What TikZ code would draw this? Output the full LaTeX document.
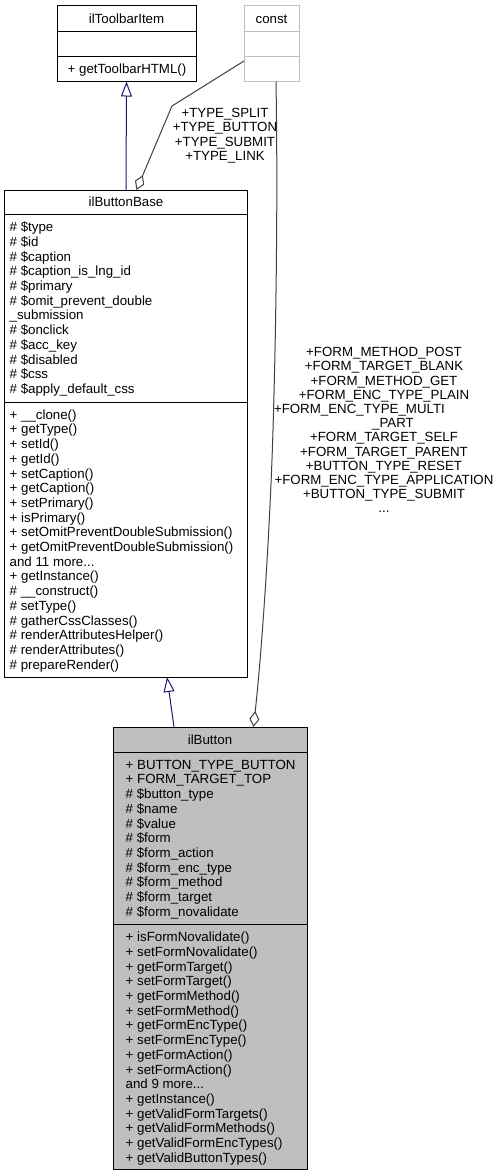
\documentclass[tikz,border=0pt]{standalone}
\usepackage{fontspec}
\setmainfont{Liberation Sans}
\usetikzlibrary{arrows.meta,calc}
\definecolor{navyline}{HTML}{191970}
\definecolor{edgegray}{HTML}{404040}
\definecolor{constgray}{HTML}{BFBFBF}
\definecolor{fillgray}{HTML}{BFBFBF}
\newcommand{\mystrut}{\rule{0pt}{11pt}}
\begin{document}
\begin{tikzpicture}[x=1pt,y=-1pt,
  every node/.style={font=\fontsize{13.3}{14.7}\selectfont},
  classbox/.style={draw=black, line width=1pt, inner sep=0pt, outer sep=0pt},
  constbox/.style={draw=constgray, line width=1pt, inner sep=0pt, outer sep=0pt},
  sepline/.style={draw=black, line width=1pt},
  constsep/.style={draw=constgray, line width=1pt},
  member/.style={anchor=north west, align=left, inner sep=0pt},
  titletext/.style={anchor=base, inner sep=0pt},
  edgelabel/.style={anchor=north, align=center, inner sep=0pt},
  inherit/.style={draw=navyline, line width=1pt, -{Triangle[open, length=15pt, width=11pt]}},
  aggr/.style={draw=edgegray, line width=1pt, -{Diamond[open, length=16pt, width=10pt]}}
]
\fill[white] (0,0) rectangle (503,1176);
\useasboundingbox (0,0) rectangle (503,1176);

% ilToolbarItem
\node[classbox, minimum width=139pt, minimum height=76pt] (toolbar) at (126.5,43.5) {};
\draw[sepline] ($(toolbar.north west)+(0,26)$) -- ($(toolbar.north east)+(0,26)$);
\draw[sepline] ($(toolbar.north west)+(0,51)$) -- ($(toolbar.north east)+(0,51)$);
\node[titletext] (toolbartitle) at (126.5,23) {ilToolbarItem};
\node[member] (toolbarmeth) at (67.5,62.5) {\mystrut+ getToolbarHTML()};

% const
\node[constbox, minimum width=55pt, minimum height=76pt] (const) at (271.5,43.5) {};
\draw[constsep] ($(const.north west)+(0,26)$) -- ($(const.north east)+(0,26)$);
\draw[constsep] ($(const.north west)+(0,51)$) -- ($(const.north east)+(0,51)$);
\node[titletext] (consttitle) at (271.5,23) {const};

% ilButtonBase
\node[classbox, minimum width=243pt, minimum height=487pt] (base) at (126,433.5) {};
\draw[sepline] ($(base.north west)+(0,24)$) -- ($(base.north east)+(0,24)$);
\draw[sepline] ($(base.north west)+(0,212)$) -- ($(base.north east)+(0,212)$);
\node[titletext] (basetitle) at (126,206.5) {ilButtonBase};
\node[member] (baseattr) at (9.5,220.5) {\mystrut\# \$type\\
\# \$id\\
\# \$caption\\
\# \$caption\_is\_lng\_id\\
\# \$primary\\
\# \$omit\_prevent\_double\\
\_submission\\
\# \$onclick\\
\# \$acc\_key\\
\# \$disabled\\
\# \$css\\
\# \$apply\_default\_css};
\node[member] (basemeth) at (9.5,408) {\mystrut+ \_\_clone()\\
+ getType()\\
+ setId()\\
+ getId()\\
+ setCaption()\\
+ getCaption()\\
+ setPrimary()\\
+ isPrimary()\\
+ setOmitPreventDoubleSubmission()\\
+ getOmitPreventDoubleSubmission()\\
and 11 more...\\
+ getInstance()\\
\# \_\_construct()\\
\# setType()\\
\# gatherCssClasses()\\
\# renderAttributesHelper()\\
\# renderAttributes()\\
\# prepareRender()};

% ilButton
\node[classbox, fill=fillgray, minimum width=194pt, minimum height=442pt] (button) at (210,948) {};
\draw[sepline] ($(button.north west)+(0,25)$) -- ($(button.north east)+(0,25)$);
\draw[sepline] ($(button.north west)+(0,197)$) -- ($(button.north east)+(0,197)$);
\node[titletext] (buttontitle) at (210,744) {ilButton};
\node[member] (buttonattr) at (125.5,758) {\mystrut+ BUTTON\_TYPE\_BUTTON\\
+ FORM\_TARGET\_TOP\\
\# \$button\_type\\
\# \$name\\
\# \$value\\
\# \$form\\
\# \$form\_action\\
\# \$form\_enc\_type\\
\# \$form\_method\\
\# \$form\_target\\
\# \$form\_novalidate};
\node[member] (buttonmeth) at (125.5,930.5) {\mystrut+ isFormNovalidate()\\
+ setFormNovalidate()\\
+ getFormTarget()\\
+ setFormTarget()\\
+ getFormMethod()\\
+ setFormMethod()\\
+ getFormEncType()\\
+ setFormEncType()\\
+ getFormAction()\\
+ setFormAction()\\
and 9 more...\\
+ getInstance()\\
+ getValidFormTargets()\\
+ getValidFormMethods()\\
+ getValidFormEncTypes()\\
+ getValidButtonTypes()};

% connectors
\draw[inherit] (base.north) -- (toolbar.south);
\draw[inherit] ($(button.north west)+(61,0)$) -- ($(base.south west)+(162.5,0)$);
\coordinate (bend1) at (172,106);
\draw[aggr] ($(const.south west)+(0,-20.5)$) -- (bend1) -- ($(base.north west)+(132,0)$);
\coordinate (mid2) at (273,430);
\draw[aggr] ($(const.south)+(4.5,0)$) .. controls (278,200) and (276,330) .. (mid2)
  .. controls (270,530) and (262,650) .. ($(button.north west)+(140.5,0)$);

% labels
\node[edgelabel, font=\fontsize{13.3}{14.4}\selectfont] (typelabel) at (225,106.2) {\mystrut+TYPE\_SPLIT\\
+TYPE\_BUTTON\\
+TYPE\_SUBMIT\\
+TYPE\_LINK};
\node[edgelabel, text width=220pt, font=\fontsize{13.3}{14.2}\selectfont] (formlabel) at (384,345.5) {\mystrut+FORM\_METHOD\_POST\\
+FORM\_TARGET\_BLANK\\
+FORM\_METHOD\_GET\\
+FORM\_ENC\_TYPE\_PLAIN\\
\makebox[220pt][l]{+FORM\_ENC\_TYPE\_MULTI}\\
\hspace*{18pt}\_PART\\
+FORM\_TARGET\_SELF\\
+FORM\_TARGET\_PARENT\\
+BUTTON\_TYPE\_RESET\\
+FORM\_ENC\_TYPE\_APPLICATION\\
+BUTTON\_TYPE\_SUBMIT\\
...};
\end{tikzpicture}
\end{document}
